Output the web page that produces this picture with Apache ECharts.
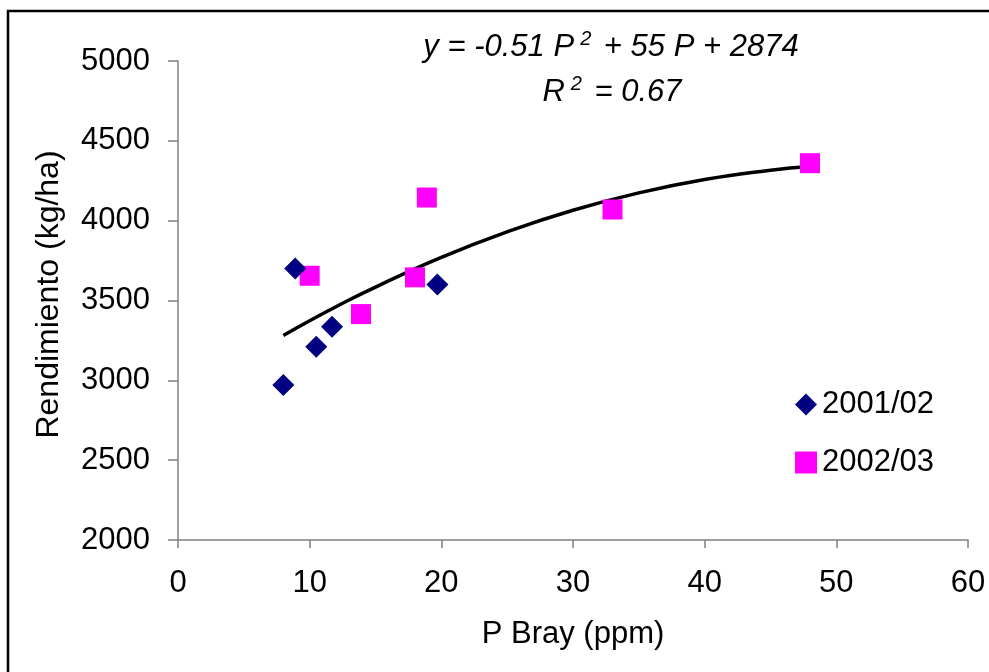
<!DOCTYPE html>
<html><head><meta charset="utf-8">
<script src="https://cdn.jsdelivr.net/npm/echarts@6/dist/echarts.min.js"></script>
<style>html,body{margin:0;padding:0;background:#fff}#c{width:989px;height:672px}</style>
</head><body><div id="c"></div>
<script>
// Data
const s1Name = '2001/02';
const s1P = [8.0, 8.9, 10.5, 11.7, 19.7];
const s1Y = [2970, 3700, 3210, 3335, 3600];
const s2Name = '2002/03';
const s2P = [10.0, 13.9, 18.0, 18.9, 33.0, 48.0];
const s2Y = [3655, 3415, 3645, 4145, 4070, 4360];
// Trend curve
const trendP = [8, 10, 12, 15, 20, 25, 30, 35, 40, 45, 48];
const trendY = [3281, 3373, 3461, 3584, 3770, 3930, 4065, 4174, 4258, 4316, 4339];
const xTicks = [0, 10, 20, 30, 40, 50, 60];
const yTicks = [2000, 2500, 3000, 3500, 4000, 4500, 5000];
const eqLine1 = 'y = -0.51 P';
const eqLine1b = ' + 55 P + 2874';
const eqLine2 = 'R';
const eqLine2b = ' = 0.67';

const font = '"Liberation Sans", Arial, sans-serif';
const chart = echarts.init(document.getElementById('c'), null, {renderer: 'canvas'});
const zip = (a, b) => a.map((v, i) => [v, b[i]]);
chart.setOption({
  animation: false,
  backgroundColor: '#fff',
  textStyle: {fontFamily: font},
  grid: {left: 178, right: 21, top: 61, bottom: 132, containLabel: false},
  xAxis: {
    type: 'value', min: xTicks[0], max: xTicks[xTicks.length - 1], interval: 10,
    name: 'P Bray (ppm)', nameLocation: 'middle', nameGap: 79,
    nameTextStyle: {fontSize: 31, color: '#000', fontFamily: font},
    axisLine: {show: true, lineStyle: {color: '#808080', width: 1.5}},
    axisTick: {show: true, length: 8, lineStyle: {color: '#808080', width: 1.5}},
    axisLabel: {fontSize: 31, color: '#000', margin: 28, fontFamily: font, formatter: v => String(v)},
    splitLine: {show: false}
  },
  yAxis: {
    type: 'value', min: yTicks[0], max: yTicks[yTicks.length - 1], interval: 500,
    name: 'Rendimiento (kg/ha)', nameLocation: 'middle', nameGap: 113,
    nameTextStyle: {fontSize: 32, color: '#000', fontFamily: font, padding: [0, 0, 0, 12]},
    axisLine: {show: true, lineStyle: {color: '#808080', width: 1.5}},
    axisTick: {show: true, length: 10, lineStyle: {color: '#808080', width: 1.5}},
    axisLabel: {fontSize: 31, color: '#000', margin: 28, fontFamily: font, formatter: v => String(v)},
    splitLine: {show: false}
  },
  legend: {
    data: [s1Name, s2Name], orient: 'vertical', left: 790, top: 384,
    itemWidth: 22, itemHeight: 22, itemGap: 27,
    textStyle: {fontSize: 31, color: '#000', fontFamily: font, padding: [0, 0, 0, 0]}
  },
  series: [
    {name: 'trend', type: 'line', data: zip(trendP, trendY), smooth: true, symbol: 'none',
     lineStyle: {color: '#000', width: 3.5}, z: 1},
    {name: s1Name, type: 'scatter', data: zip(s1P, s1Y), symbol: 'diamond', symbolSize: 22,
     itemStyle: {color: '#000080', opacity: 1}, z: 3},
    {name: s2Name, type: 'scatter', data: zip(s2P, s2Y), symbol: 'rect', symbolSize: 20,
     itemStyle: {color: '#FF00FF', opacity: 1}, z: 2}
  ],
  graphic: [
    {type: 'rect', shape: {x: 8, y: 11, width: 1100, height: 800},
     style: {fill: 'none', stroke: '#000', lineWidth: 2.5}, silent: true},
    {type: 'text', x: 611, y: 47, silent: true,
     style: {text: '{a|' + eqLine1 + '}{s|2}{a|' + eqLine1b + '}', align: 'center', verticalAlign: 'middle',
       rich: {a: {fontSize: 31, fontStyle: 'italic', fontFamily: font, color: '#000'},
              s: {fontSize: 20, fontStyle: 'italic', fontFamily: font, color: '#000', padding: [0, 4, 16, 6]}}}},
    {type: 'text', x: 612, y: 92, silent: true,
     style: {text: '{a|' + eqLine2 + '}{s|2}{a|' + eqLine2b + '}', align: 'center', verticalAlign: 'middle',
       rich: {a: {fontSize: 31, fontStyle: 'italic', fontFamily: font, color: '#000'},
              s: {fontSize: 20, fontStyle: 'italic', fontFamily: font, color: '#000', padding: [0, 4, 16, 6]}}}}
  ]
});
</script></body></html>
